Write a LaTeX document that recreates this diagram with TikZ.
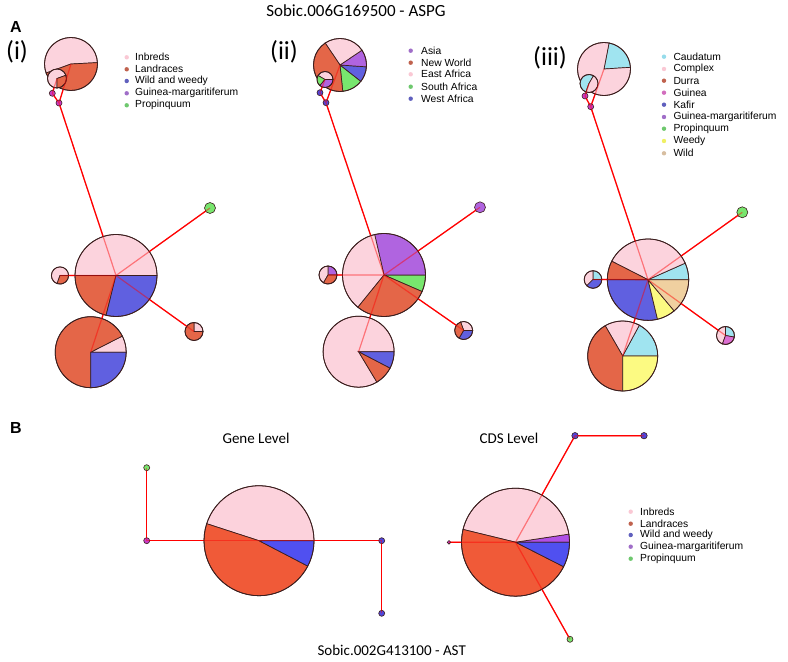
\documentclass[tikz,border=0pt]{standalone}
\usepackage{fontspec}
\setmainfont{Liberation Sans}
\newfontfamily\calib{Carlito}
\definecolor{pk}{RGB}{252,211,221}
\definecolor{rdA}{RGB}{228,102,72}
\definecolor{blA}{RGB}{96,96,224}
\definecolor{puA}{RGB}{176,100,224}
\definecolor{gnA}{RGB}{120,230,110}
\definecolor{cy}{RGB}{160,228,240}
\definecolor{ye}{RGB}{252,250,130}
\definecolor{tn}{RGB}{240,208,160}
\definecolor{mg}{RGB}{220,110,210}
\definecolor{pkB}{RGB}{252,210,220}
\definecolor{rdB}{RGB}{240,90,56}
\definecolor{blB}{RGB}{80,80,240}
\definecolor{puB}{RGB}{176,80,230}
\definecolor{dmg}{RGB}{200,60,200}
\definecolor{dbl}{RGB}{80,70,220}
\definecolor{pieline}{RGB}{60,30,30}
\definecolor{lpk}{RGB}{250,200,212}
\definecolor{lrd}{RGB}{192,98,78}
\definecolor{lbl}{RGB}{96,96,190}
\definecolor{lpu}{RGB}{160,110,200}
\definecolor{lgn}{RGB}{110,200,110}
\definecolor{lcy}{RGB}{150,220,235}
\definecolor{lmg}{RGB}{210,110,190}
\definecolor{lye}{RGB}{240,240,100}
\definecolor{ltn}{RGB}{215,190,160}
\newcommand{\piechart}[3]{%
  \foreach \a/\b/\c in {#3}{%
    \filldraw[fill=\c, draw=pieline, line width=0.7pt] (#1) -- ++(\a:#2) arc[start angle=\a, end angle=\b, radius=#2] -- cycle;}%
  \draw[pieline, line width=0.8pt] (#1) circle[radius=#2];}
\newcommand{\dotat}[3]{\filldraw[fill=#3, draw=pieline, line width=0.6pt] (#1) circle[radius=#2];}
\newcommand{\alledges}[1]{%
  \draw[#1] (d1b) -- (B1) (B1) -- (G1) (B1) -- (L1) (B1) -- (R1) (B1) -- (P1) (d1b) -- (d1a) (d1a) -- (S1) (d1b) -- (T1);
  \draw[#1] (d2b) -- (B2) (B2) -- (G2) (B2) -- (L2) (B2) -- (R2) (B2) -- (P2) (d2b) -- (d2a) (d2a) -- (S2) (d2b) -- (T2);
  \draw[#1] (d3b) -- (B3) (B3) -- (G3) (B3) -- (L3) (B3) -- (R3) (B3) -- (P3) (d3b) -- (d3a) (d3a) -- (S3) (d3b) -- (T3);
  \draw[#1] (GNg) -- (GNm) -- (GP) -- (GNr) -- (GNb);
  \draw[#1] (CNt2) -- (CNt1) -- (CP) (CP) -- (CNl) (CP) -- (CNg);}
\tikzset{
  edge/.style={draw=red, line width=1.2pt},
  edgeover/.style={draw=red, line width=1.2pt, opacity=0.45},
  legtext/.style={anchor=west, inner sep=0pt, font=\fontsize{10.3}{12}\selectfont},
  sublabel/.style={inner sep=0pt, font=\calib\fontsize{26}{30}\selectfont},
  levlabel/.style={inner sep=0pt, font=\calib\fontsize{15}{18}\selectfont},
  panlabel/.style={inner sep=0pt, font=\bfseries\fontsize{16}{18}\selectfont}
}
\begin{document}
\begin{tikzpicture}[x=1pt,y=1pt]
\useasboundingbox (0,0) rectangle (788,662);
\fill[white] (0,0) rectangle (788,662);
% coordinates panel (i)
\coordinate (T1) at (71,598);
\coordinate (S1) at (57,583.5);
\coordinate (d1a) at (52.3,568.7);
\coordinate (d1b) at (59,559);
\coordinate (B1) at (116,386.5);
\coordinate (L1) at (60,386.5);
\coordinate (G1) at (210,454);
\coordinate (R1) at (194,330.5);
\coordinate (P1) at (90.7,309.8);
% panel (ii)
\coordinate (T2) at (340,597);
\coordinate (S2) at (325,582.5);
\coordinate (d2a) at (320,569.3);
\coordinate (d2b) at (326,559.3);
\coordinate (B2) at (384,387);
\coordinate (L2) at (328,387);
\coordinate (G2) at (480,454.7);
\coordinate (R2) at (463.7,331.5);
\coordinate (P2) at (358.6,310.3);
% panel (iii)
\coordinate (T3) at (604,593);
\coordinate (S3) at (589,578.5);
\coordinate (d3a) at (585,566);
\coordinate (d3b) at (590.7,555.3);
\coordinate (B3) at (648,382.3);
\coordinate (L3) at (593,382.5);
\coordinate (G3) at (742.3,449.7);
\coordinate (R3) at (725.5,326.5);
\coordinate (P3) at (622.7,306);
% panel B
\coordinate (GP) at (259,121.3);
\coordinate (GNg) at (146.7,194.3);
\coordinate (GNm) at (146.7,121.3);
\coordinate (GNr) at (381.7,121.3);
\coordinate (GNb) at (381.7,48.7);
\coordinate (CP) at (515.5,119.8);
\coordinate (CNt1) at (575,226.3);
\coordinate (CNt2) at (644,226.3);
\coordinate (CNl) at (449,119.7);
\coordinate (CNg) at (570,22.7);

\alledges{edge}

% pies (i)
\piechart{T1}{26.5}{3/200/pk, 200/363/rdA}
\piechart{S1}{9.5}{20/270/pk, 270/380/rdA}
\piechart{B1}{41}{0/180/pk, 180/256/rdA, 256/360/blA}
\piechart{L1}{8.6}{0/250/pk, 250/360/rdA}
\dotat{G1}{5.5}{gnA}
\piechart{R1}{9}{0/90/pk, 90/360/rdA}
\piechart{P1}{35.5}{0/27/pk, 27/270/rdA, 270/360/blA}
\dotat{d1a}{3}{dmg}
\dotat{d1b}{3}{dmg}
% pies (ii)
\piechart{T2}{26.5}{-84/-38/gnA, -38/-4/blA, -4/34/puA, 34/124/pk, 124/276/rdA}
\piechart{S2}{8}{0/150/pk, 150/230/gnA, 230/360/puA}
\piechart{B2}{41.5}{-23.5/0/gnA, 0/103/puA, 103/231/pk, 231/336.5/rdA}
\piechart{L2}{9}{0/90/puA, 90/240/pk, 240/360/rdA}
\dotat{G2}{5.5}{puA}
\piechart{R2}{9}{0/110/pk, 110/240/rdA, 240/360/blA}
\piechart{P2}{35.5}{0/301/pk, 301/332.5/rdA, 332.5/360/blA}
\dotat{d2a}{3}{dbl}
\dotat{d2b}{3}{dbl}
% pies (iii)
\piechart{T3}{26.5}{3.6/79/cy, 79/363.6/pk}
\piechart{S3}{9}{60/250/cy, 250/420/pk}
\piechart{B3}{40.7}{0/24/cy, 24/153/pk, 153/180/rdA, 180/283.5/blA, 283.5/310/ye, 310/360/tn}
\piechart{L3}{8.8}{0/90/cy, 90/225/pk, 225/360/blA}
\dotat{G3}{5.5}{gnA}
\piechart{R3}{9}{-10/90/cy, 90/250/pk, 250/350/mg}
\piechart{P3}{35}{0/61.6/cy, 61.6/120/pk, 120/270/rdA, 270/360/ye}
\dotat{d3a}{3}{dmg}
\dotat{d3b}{3}{dmg}
% panel B pies
\piechart{GP}{55}{0/162/pkB, 162/332.5/rdB, 332.5/360/blB}
\piechart{CP}{54}{0/8.6/puB, 8.6/166.3/pkB, 166.3/333/rdB, 333/360/blB}
\dotat{GNg}{3}{gnA}
\dotat{GNm}{3}{dmg}
\dotat{GNr}{3}{dbl}
\dotat{GNb}{3}{dbl}
\dotat{CNt1}{3.2}{dbl}
\dotat{CNt2}{3.2}{dbl}
\dotat{CNl}{1.8}{dmg}
\dotat{CNg}{3}{gnA}

\alledges{edgeover}

% texts
\node[inner sep=0pt, font=\calib\fontsize{17}{20}\selectfont] (title1) at (356,651) {Sobic.006G169500 - ASPG};
\node[inner sep=0pt, font=\calib\fontsize{15}{18}\selectfont] (title2) at (391.7,12) {Sobic.002G413100 - AST};
\node[panlabel] (lblA) at (16,635) {A};
\node[panlabel] (lblB) at (16,234) {B};
\node[sublabel] (lbli) at (17,610) {(i)};
\node[sublabel] (lblii) at (284,610) {(ii)};
\node[sublabel] (lbliii) at (550,604) {(iii)};
\node[levlabel] (gene) at (256,224) {Gene Level};
\node[levlabel] (cds) at (509,224) {CDS Level};

% legends
\foreach \yy/\tx/\cc [count=\i] in {604.7/Inbreds/lpk, 592.7/Landraces/lrd, 581/Wild and weedy/lbl, 568.7/Guinea-margaritiferum/lpu, 556.7/Propinquum/lgn}{
  \fill[\cc] (126.7,\yy) circle[radius=2.2];
  \node[legtext] (lega\i) at (135,\yy) {\tx};}
\foreach \yy/\tx/\cc [count=\i] in {611.3/Asia/lpu, 599.3/New World/lrd, 587.7/East Africa/lpk, 575.3/South Africa/lgn, 563.3/West Africa/lbl}{
  \fill[\cc] (410.7,\yy) circle[radius=2.2];
  \node[legtext] (legb\i) at (421,\yy) {\tx};}
\foreach \yy/\tx/\cc [count=\i] in {605.3/Caudatum/lcy, 593/Complex/lpk, 581.3/Durra/lrd, 569.3/Guinea/lmg, 557.3/Kafir/lbl, 545/Guinea-margaritiferum/lpu, 533.3/Propinquum/lgn, 521/Weedy/lye, 508.7/Wild/ltn}{
  \fill[\cc] (664,\yy) circle[radius=2.2];
  \node[legtext] (legc\i) at (673.3,\yy) {\tx};}
\foreach \yy/\tx/\cc [count=\i] in {150.3/Inbreds/lpk, 138.3/Landraces/lrd, 127/Wild and weedy/lbl, 115.3/Guinea-margaritiferum/lpu, 103.3/Propinquum/lgn}{
  \fill[\cc] (630.7,\yy) circle[radius=2.2];
  \node[legtext] (legd\i) at (640,\yy) {\tx};}
\end{tikzpicture}
\end{document}
